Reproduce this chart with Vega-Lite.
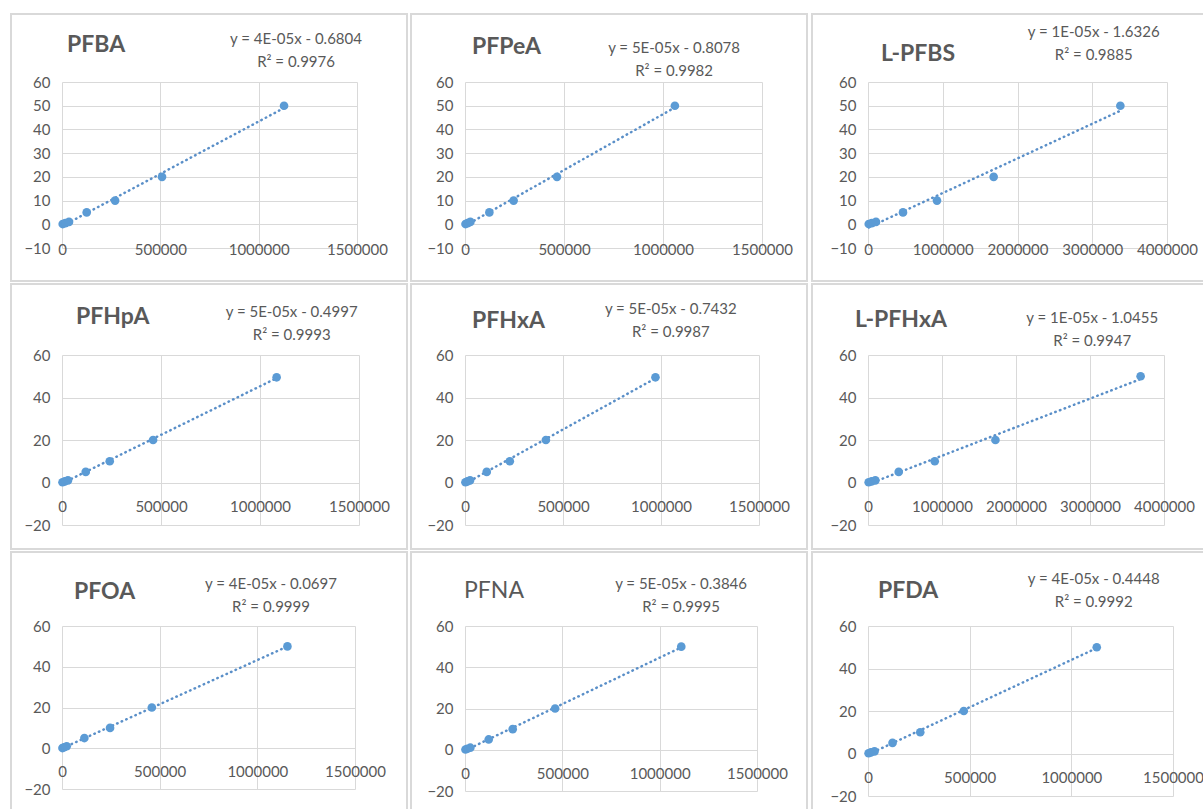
{
  "$schema": "https://vega.github.io/schema/vega-lite/v6.json",
  "padding": {"left": 9, "top": 12, "right": 0, "bottom": 0},
  "background": "white",
  "columns": 3,
  "align": "each",
  "spacing": {"column": 1, "row": 0},
  "datasets": {
    "cal": [
      {"compound": "PFBA", "x": 3500, "y": 0.1}, {"compound": "PFBA", "x": 17000, "y": 0.5}, {"compound": "PFBA", "x": 35600, "y": 1}, {"compound": "PFBA", "x": 125600, "y": 5}, {"compound": "PFBA", "x": 270000, "y": 10}, {"compound": "PFBA", "x": 508600, "y": 20}, {"compound": "PFBA", "x": 1129000, "y": 50},
      {"compound": "PFPeA", "x": 2500, "y": 0.1}, {"compound": "PFPeA", "x": 13000, "y": 0.5}, {"compound": "PFPeA", "x": 27000, "y": 1}, {"compound": "PFPeA", "x": 123000, "y": 5}, {"compound": "PFPeA", "x": 245500, "y": 10}, {"compound": "PFPeA", "x": 464600, "y": 20}, {"compound": "PFPeA", "x": 1060000, "y": 50},
      {"compound": "L-PFBS", "x": 10000, "y": 0.1}, {"compound": "L-PFBS", "x": 50000, "y": 0.5}, {"compound": "L-PFBS", "x": 107000, "y": 1}, {"compound": "L-PFBS", "x": 468000, "y": 5}, {"compound": "L-PFBS", "x": 923000, "y": 10}, {"compound": "L-PFBS", "x": 1681000, "y": 20}, {"compound": "L-PFBS", "x": 3376000, "y": 50},
      {"compound": "PFHpA", "x": 2500, "y": 0.1}, {"compound": "PFHpA", "x": 14000, "y": 0.5}, {"compound": "PFHpA", "x": 30000, "y": 1}, {"compound": "PFHpA", "x": 119800, "y": 5}, {"compound": "PFHpA", "x": 241000, "y": 10}, {"compound": "PFHpA", "x": 460000, "y": 20}, {"compound": "PFHpA", "x": 1084000, "y": 49.5},
      {"compound": "PFHxA", "x": 2200, "y": 0.1}, {"compound": "PFHxA", "x": 12000, "y": 0.5}, {"compound": "PFHxA", "x": 25600, "y": 1}, {"compound": "PFHxA", "x": 110800, "y": 5}, {"compound": "PFHxA", "x": 228600, "y": 10}, {"compound": "PFHxA", "x": 412700, "y": 20}, {"compound": "PFHxA", "x": 971700, "y": 49.5},
      {"compound": "L-PFHxA", "x": 9000, "y": 0.1}, {"compound": "L-PFHxA", "x": 48000, "y": 0.5}, {"compound": "L-PFHxA", "x": 99000, "y": 1}, {"compound": "L-PFHxA", "x": 415000, "y": 5}, {"compound": "L-PFHxA", "x": 902000, "y": 10}, {"compound": "L-PFHxA", "x": 1722000, "y": 20}, {"compound": "L-PFHxA", "x": 3684000, "y": 50},
      {"compound": "PFOA", "x": 2300, "y": 0.1}, {"compound": "PFOA", "x": 11000, "y": 0.5}, {"compound": "PFOA", "x": 24000, "y": 1}, {"compound": "PFOA", "x": 114600, "y": 5}, {"compound": "PFOA", "x": 246000, "y": 10}, {"compound": "PFOA", "x": 460000, "y": 20}, {"compound": "PFOA", "x": 1154000, "y": 50},
      {"compound": "PFNA", "x": 2400, "y": 0.1}, {"compound": "PFNA", "x": 12000, "y": 0.5}, {"compound": "PFNA", "x": 27400, "y": 1}, {"compound": "PFNA", "x": 121600, "y": 5}, {"compound": "PFNA", "x": 245000, "y": 10}, {"compound": "PFNA", "x": 463000, "y": 20}, {"compound": "PFNA", "x": 1111000, "y": 50},
      {"compound": "PFDA", "x": 2800, "y": 0.1}, {"compound": "PFDA", "x": 14000, "y": 0.5}, {"compound": "PFDA", "x": 32000, "y": 1}, {"compound": "PFDA", "x": 120600, "y": 5}, {"compound": "PFDA", "x": 257000, "y": 10}, {"compound": "PFDA", "x": 471000, "y": 20}, {"compound": "PFDA", "x": 1125000, "y": 50}
    ],
    "labels": [
      {"compound": "PFBA", "name": "PFBA", "eq": "y = 4E-05x - 0.6804\nR² = 0.9976"},
      {"compound": "PFPeA", "name": "PFPeA", "eq": "y = 5E-05x - 0.8078\nR² = 0.9982"},
      {"compound": "L-PFBS", "name": "L-PFBS", "eq": "y = 1E-05x - 1.6326\nR² = 0.9885"},
      {"compound": "PFHpA", "name": "PFHpA", "eq": "y = 5E-05x - 0.4997\nR² = 0.9993"},
      {"compound": "PFHxA", "name": "PFHxA", "eq": "y = 5E-05x - 0.7432\nR² = 0.9987"},
      {"compound": "L-PFHxA", "name": "L-PFHxA", "eq": "y = 1E-05x - 1.0455\nR² = 0.9947"},
      {"compound": "PFOA", "name": "PFOA", "eq": "y = 4E-05x - 0.0697\nR² = 0.9999"},
      {"compound": "PFNA", "name": "PFNA", "eq": "y = 5E-05x - 0.3846\nR² = 0.9995"},
      {"compound": "PFDA", "name": "PFDA", "eq": "y = 4E-05x - 0.4448\nR² = 0.9992"}
    ]
  },
  "concat": [
    {
      "width": 295, "height": 166,
      "layer": [
        {"data": {"name": "labels"}, "transform": [{"filter": "datum.compound === 'PFBA'"}],
         "mark": {"type": "rect", "filled": false, "color": "#d9d9d9", "strokeWidth": 2},
         "encoding": {"x": {"datum": -259322, "type": "quantitative"}, "x2": {"datum": 1754237}, "y": {"datum": 88.675, "type": "quantitative"}, "y2": {"datum": -23.916}}},
        {"data": {"name": "cal"}, "transform": [{"filter": "datum.compound === 'PFBA'"}, {"regression": "y", "on": "x"}],
         "mark": {"type": "line", "color": "#5a8fc8", "strokeWidth": 2.5, "strokeDash": [0.5, 4.5], "strokeCap": "round"},
         "encoding": {"x": {"field": "x", "type": "quantitative", "title": null, "scale": {"domain": [0, 1500000], "nice": false}, "axis": {"values": [0, 500000, 1000000, 1500000], "tickCount": 20, "format": "d", "offset": -6, "labelPadding": 0}},
                      "y": {"field": "y", "type": "quantitative", "title": null, "scale": {"domain": [-10, 60], "nice": false}, "axis": {"values": [-10, 0, 10, 20, 30, 40, 50, 60], "tickCount": 20}}}},
        {"data": {"name": "cal"}, "transform": [{"filter": "datum.compound === 'PFBA'"}],
         "mark": {"type": "circle", "size": 75, "color": "#5b9bd5", "opacity": 1},
         "encoding": {"x": {"field": "x", "type": "quantitative"}, "y": {"field": "y", "type": "quantitative"}}},
        {"data": {"name": "labels"}, "transform": [{"filter": "datum.compound === 'PFBA'"}],
         "mark": {"type": "text", "align": "left", "baseline": "alphabetic", "fontSize": 23, "fontWeight": "bold", "color": "#595959", "dx": 5},
         "encoding": {"x": {"datum": 0, "type": "quantitative"}, "y": {"datum": 72.6, "type": "quantitative"}, "text": {"field": "name"}}},
        {"data": {"name": "labels"}, "transform": [{"filter": "datum.compound === 'PFBA'"}],
         "mark": {"type": "text", "align": "center", "baseline": "middle", "fontSize": 15, "color": "#595959", "lineBreak": "\n", "lineHeight": 23},
         "encoding": {"x": {"datum": 1190000, "type": "quantitative"}, "y": {"datum": 78.3, "type": "quantitative"}, "text": {"field": "eq"}}}
      ]
    },
    {
      "width": 297, "height": 166,
      "layer": [
        {"data": {"name": "labels"}, "transform": [{"filter": "datum.compound === 'PFPeA'"}],
         "mark": {"type": "rect", "filled": false, "color": "#d9d9d9", "strokeWidth": 2},
         "encoding": {"x": {"datum": -272727, "type": "quantitative"}, "x2": {"datum": 1727273}, "y": {"datum": 88.675, "type": "quantitative"}, "y2": {"datum": -23.916}}},
        {"data": {"name": "cal"}, "transform": [{"filter": "datum.compound === 'PFPeA'"}, {"regression": "y", "on": "x"}],
         "mark": {"type": "line", "color": "#5a8fc8", "strokeWidth": 2.5, "strokeDash": [0.5, 4.5], "strokeCap": "round"},
         "encoding": {"x": {"field": "x", "type": "quantitative", "title": null, "scale": {"domain": [0, 1500000], "nice": false}, "axis": {"values": [0, 500000, 1000000, 1500000], "tickCount": 20, "format": "d", "offset": -6, "labelPadding": 0}},
                      "y": {"field": "y", "type": "quantitative", "title": null, "scale": {"domain": [-10, 60], "nice": false}, "axis": {"values": [-10, 0, 10, 20, 30, 40, 50, 60], "tickCount": 20}}}},
        {"data": {"name": "cal"}, "transform": [{"filter": "datum.compound === 'PFPeA'"}],
         "mark": {"type": "circle", "size": 75, "color": "#5b9bd5", "opacity": 1},
         "encoding": {"x": {"field": "x", "type": "quantitative"}, "y": {"field": "y", "type": "quantitative"}}},
        {"data": {"name": "labels"}, "transform": [{"filter": "datum.compound === 'PFPeA'"}],
         "mark": {"type": "text", "align": "left", "baseline": "alphabetic", "fontSize": 23, "fontWeight": "bold", "color": "#595959", "dx": 7},
         "encoding": {"x": {"datum": 0, "type": "quantitative"}, "y": {"datum": 71.8, "type": "quantitative"}, "text": {"field": "name"}}},
        {"data": {"name": "labels"}, "transform": [{"filter": "datum.compound === 'PFPeA'"}],
         "mark": {"type": "text", "align": "center", "baseline": "middle", "fontSize": 15, "color": "#595959", "lineBreak": "\n", "lineHeight": 23},
         "encoding": {"x": {"datum": 1056000, "type": "quantitative"}, "y": {"datum": 74.4, "type": "quantitative"}, "text": {"field": "eq"}}}
      ]
    },
    {
      "width": 299, "height": 166,
      "layer": [
        {"data": {"name": "labels"}, "transform": [{"filter": "datum.compound === 'L-PFBS'"}],
         "mark": {"type": "rect", "filled": false, "color": "#d9d9d9", "strokeWidth": 2},
         "encoding": {"x": {"datum": -749164, "type": "quantitative"}, "x2": {"datum": 4642140}, "y": {"datum": 88.675, "type": "quantitative"}, "y2": {"datum": -23.916}}},
        {"data": {"name": "cal"}, "transform": [{"filter": "datum.compound === 'L-PFBS'"}, {"regression": "y", "on": "x"}],
         "mark": {"type": "line", "color": "#5a8fc8", "strokeWidth": 2.5, "strokeDash": [0.5, 4.5], "strokeCap": "round"},
         "encoding": {"x": {"field": "x", "type": "quantitative", "title": null, "scale": {"domain": [0, 4000000], "nice": false}, "axis": {"values": [0, 1000000, 2000000, 3000000, 4000000], "tickCount": 20, "format": "d", "offset": -6, "labelPadding": 0}},
                      "y": {"field": "y", "type": "quantitative", "title": null, "scale": {"domain": [-10, 60], "nice": false}, "axis": {"values": [-10, 0, 10, 20, 30, 40, 50, 60], "tickCount": 20}}}},
        {"data": {"name": "cal"}, "transform": [{"filter": "datum.compound === 'L-PFBS'"}],
         "mark": {"type": "circle", "size": 75, "color": "#5b9bd5", "opacity": 1},
         "encoding": {"x": {"field": "x", "type": "quantitative"}, "y": {"field": "y", "type": "quantitative"}}},
        {"data": {"name": "labels"}, "transform": [{"filter": "datum.compound === 'L-PFBS'"}],
         "mark": {"type": "text", "align": "left", "baseline": "alphabetic", "fontSize": 23, "fontWeight": "bold", "color": "#595959", "dx": 13},
         "encoding": {"x": {"datum": 0, "type": "quantitative"}, "y": {"datum": 68.8, "type": "quantitative"}, "text": {"field": "name"}}},
        {"data": {"name": "labels"}, "transform": [{"filter": "datum.compound === 'L-PFBS'"}],
         "mark": {"type": "text", "align": "center", "baseline": "middle", "fontSize": 15, "color": "#595959", "lineBreak": "\n", "lineHeight": 23},
         "encoding": {"x": {"datum": 3020000, "type": "quantitative"}, "y": {"datum": 81, "type": "quantitative"}, "text": {"field": "eq"}}}
      ]
    },
    {
      "width": 297, "height": 170,
      "layer": [
        {"data": {"name": "labels"}, "transform": [{"filter": "datum.compound === 'PFHpA'"}],
         "mark": {"type": "rect", "filled": false, "color": "#d9d9d9", "strokeWidth": 2},
         "encoding": {"x": {"datum": -257576, "type": "quantitative"}, "x2": {"datum": 1742424}, "y": {"datum": 93.41, "type": "quantitative"}, "y2": {"datum": -31.29}}},
        {"data": {"name": "cal"}, "transform": [{"filter": "datum.compound === 'PFHpA'"}, {"regression": "y", "on": "x"}],
         "mark": {"type": "line", "color": "#5a8fc8", "strokeWidth": 2.5, "strokeDash": [0.5, 4.5], "strokeCap": "round"},
         "encoding": {"x": {"field": "x", "type": "quantitative", "title": null, "scale": {"domain": [0, 1500000], "nice": false}, "axis": {"values": [0, 500000, 1000000, 1500000], "tickCount": 20, "format": "d", "offset": -26, "labelPadding": 0}},
                      "y": {"field": "y", "type": "quantitative", "title": null, "scale": {"domain": [-20, 60], "nice": false}, "axis": {"values": [-20, 0, 20, 40, 60], "tickCount": 20}}}},
        {"data": {"name": "cal"}, "transform": [{"filter": "datum.compound === 'PFHpA'"}],
         "mark": {"type": "circle", "size": 75, "color": "#5b9bd5", "opacity": 1},
         "encoding": {"x": {"field": "x", "type": "quantitative"}, "y": {"field": "y", "type": "quantitative"}}},
        {"data": {"name": "labels"}, "transform": [{"filter": "datum.compound === 'PFHpA'"}],
         "mark": {"type": "text", "align": "left", "baseline": "alphabetic", "fontSize": 23, "fontWeight": "bold", "color": "#595959", "dx": 14},
         "encoding": {"x": {"datum": 0, "type": "quantitative"}, "y": {"datum": 74.6, "type": "quantitative"}, "text": {"field": "name"}}},
        {"data": {"name": "labels"}, "transform": [{"filter": "datum.compound === 'PFHpA'"}],
         "mark": {"type": "text", "align": "center", "baseline": "middle", "fontSize": 15, "color": "#595959", "lineBreak": "\n", "lineHeight": 23},
         "encoding": {"x": {"datum": 1160000, "type": "quantitative"}, "y": {"datum": 80.4, "type": "quantitative"}, "text": {"field": "eq"}}}
      ]
    },
    {
      "width": 294, "height": 170,
      "layer": [
        {"data": {"name": "labels"}, "transform": [{"filter": "datum.compound === 'PFHxA'"}],
         "mark": {"type": "rect", "filled": false, "color": "#d9d9d9", "strokeWidth": 2},
         "encoding": {"x": {"datum": -275510, "type": "quantitative"}, "x2": {"datum": 1744898}, "y": {"datum": 93.41, "type": "quantitative"}, "y2": {"datum": -31.29}}},
        {"data": {"name": "cal"}, "transform": [{"filter": "datum.compound === 'PFHxA'"}, {"regression": "y", "on": "x"}],
         "mark": {"type": "line", "color": "#5a8fc8", "strokeWidth": 2.5, "strokeDash": [0.5, 4.5], "strokeCap": "round"},
         "encoding": {"x": {"field": "x", "type": "quantitative", "title": null, "scale": {"domain": [0, 1500000], "nice": false}, "axis": {"values": [0, 500000, 1000000, 1500000], "tickCount": 20, "format": "d", "offset": -26, "labelPadding": 0}},
                      "y": {"field": "y", "type": "quantitative", "title": null, "scale": {"domain": [-20, 60], "nice": false}, "axis": {"values": [-20, 0, 20, 40, 60], "tickCount": 20}}}},
        {"data": {"name": "cal"}, "transform": [{"filter": "datum.compound === 'PFHxA'"}],
         "mark": {"type": "circle", "size": 75, "color": "#5b9bd5", "opacity": 1},
         "encoding": {"x": {"field": "x", "type": "quantitative"}, "y": {"field": "y", "type": "quantitative"}}},
        {"data": {"name": "labels"}, "transform": [{"filter": "datum.compound === 'PFHxA'"}],
         "mark": {"type": "text", "align": "left", "baseline": "alphabetic", "fontSize": 23, "fontWeight": "bold", "color": "#595959", "dx": 7},
         "encoding": {"x": {"datum": 0, "type": "quantitative"}, "y": {"datum": 72.5, "type": "quantitative"}, "text": {"field": "name"}}},
        {"data": {"name": "labels"}, "transform": [{"filter": "datum.compound === 'PFHxA'"}],
         "mark": {"type": "text", "align": "center", "baseline": "middle", "fontSize": 15, "color": "#595959", "lineBreak": "\n", "lineHeight": 23},
         "encoding": {"x": {"datum": 1050000, "type": "quantitative"}, "y": {"datum": 81.6, "type": "quantitative"}, "text": {"field": "eq"}}}
      ]
    },
    {
      "width": 296, "height": 170,
      "layer": [
        {"data": {"name": "labels"}, "transform": [{"filter": "datum.compound === 'L-PFHxA'"}],
         "mark": {"type": "rect", "filled": false, "color": "#d9d9d9", "strokeWidth": 2},
         "encoding": {"x": {"datum": -756757, "type": "quantitative"}, "x2": {"datum": 4689189}, "y": {"datum": 93.41, "type": "quantitative"}, "y2": {"datum": -31.29}}},
        {"data": {"name": "cal"}, "transform": [{"filter": "datum.compound === 'L-PFHxA'"}, {"regression": "y", "on": "x"}],
         "mark": {"type": "line", "color": "#5a8fc8", "strokeWidth": 2.5, "strokeDash": [0.5, 4.5], "strokeCap": "round"},
         "encoding": {"x": {"field": "x", "type": "quantitative", "title": null, "scale": {"domain": [0, 4000000], "nice": false}, "axis": {"values": [0, 1000000, 2000000, 3000000, 4000000], "tickCount": 20, "format": "d", "offset": -26, "labelPadding": 0}},
                      "y": {"field": "y", "type": "quantitative", "title": null, "scale": {"domain": [-20, 60], "nice": false}, "axis": {"values": [-20, 0, 20, 40, 60], "tickCount": 20}}}},
        {"data": {"name": "cal"}, "transform": [{"filter": "datum.compound === 'L-PFHxA'"}],
         "mark": {"type": "circle", "size": 75, "color": "#5b9bd5", "opacity": 1},
         "encoding": {"x": {"field": "x", "type": "quantitative"}, "y": {"field": "y", "type": "quantitative"}}},
        {"data": {"name": "labels"}, "transform": [{"filter": "datum.compound === 'L-PFHxA'"}],
         "mark": {"type": "text", "align": "left", "baseline": "alphabetic", "fontSize": 23, "fontWeight": "bold", "color": "#595959", "dx": -13},
         "encoding": {"x": {"datum": 0, "type": "quantitative"}, "y": {"datum": 73.2, "type": "quantitative"}, "text": {"field": "name"}}},
        {"data": {"name": "labels"}, "transform": [{"filter": "datum.compound === 'L-PFHxA'"}],
         "mark": {"type": "text", "align": "center", "baseline": "middle", "fontSize": 15, "color": "#595959", "lineBreak": "\n", "lineHeight": 23},
         "encoding": {"x": {"datum": 3030000, "type": "quantitative"}, "y": {"datum": 77.4, "type": "quantitative"}, "text": {"field": "eq"}}}
      ]
    },
    {
      "width": 293, "height": 163,
      "layer": [
        {"data": {"name": "labels"}, "transform": [{"filter": "datum.compound === 'PFOA'"}],
         "mark": {"type": "rect", "filled": false, "color": "#d9d9d9", "strokeWidth": 2},
         "encoding": {"x": {"datum": -261092, "type": "quantitative"}, "x2": {"datum": 1766212}, "y": {"datum": 96.32, "type": "quantitative"}, "y2": {"datum": -32.27}}},
        {"data": {"name": "cal"}, "transform": [{"filter": "datum.compound === 'PFOA'"}, {"regression": "y", "on": "x"}],
         "mark": {"type": "line", "color": "#5a8fc8", "strokeWidth": 2.5, "strokeDash": [0.5, 4.5], "strokeCap": "round"},
         "encoding": {"x": {"field": "x", "type": "quantitative", "title": null, "scale": {"domain": [0, 1500000], "nice": false}, "axis": {"values": [0, 500000, 1000000, 1500000], "tickCount": 20, "format": "d", "offset": -25, "labelPadding": 0}},
                      "y": {"field": "y", "type": "quantitative", "title": null, "scale": {"domain": [-20, 60], "nice": false}, "axis": {"values": [-20, 0, 20, 40, 60], "tickCount": 20}}}},
        {"data": {"name": "cal"}, "transform": [{"filter": "datum.compound === 'PFOA'"}],
         "mark": {"type": "circle", "size": 75, "color": "#5b9bd5", "opacity": 1},
         "encoding": {"x": {"field": "x", "type": "quantitative"}, "y": {"field": "y", "type": "quantitative"}}},
        {"data": {"name": "labels"}, "transform": [{"filter": "datum.compound === 'PFOA'"}],
         "mark": {"type": "text", "align": "left", "baseline": "alphabetic", "fontSize": 23, "fontWeight": "bold", "color": "#595959", "dx": 12},
         "encoding": {"x": {"datum": 0, "type": "quantitative"}, "y": {"datum": 73.3, "type": "quantitative"}, "text": {"field": "name"}}},
        {"data": {"name": "labels"}, "transform": [{"filter": "datum.compound === 'PFOA'"}],
         "mark": {"type": "text", "align": "center", "baseline": "middle", "fontSize": 15, "color": "#595959", "lineBreak": "\n", "lineHeight": 23},
         "encoding": {"x": {"datum": 1070000, "type": "quantitative"}, "y": {"datum": 80.7, "type": "quantitative"}, "text": {"field": "eq"}}}
      ]
    },
    {
      "width": 292, "height": 165,
      "layer": [
        {"data": {"name": "labels"}, "transform": [{"filter": "datum.compound === 'PFNA'"}],
         "mark": {"type": "rect", "filled": false, "color": "#d9d9d9", "strokeWidth": 2},
         "encoding": {"x": {"datum": -277397, "type": "quantitative"}, "x2": {"datum": 1756849}, "y": {"datum": 95.88, "type": "quantitative"}, "y2": {"datum": -31.15}}},
        {"data": {"name": "cal"}, "transform": [{"filter": "datum.compound === 'PFNA'"}, {"regression": "y", "on": "x"}],
         "mark": {"type": "line", "color": "#5a8fc8", "strokeWidth": 2.5, "strokeDash": [0.5, 4.5], "strokeCap": "round"},
         "encoding": {"x": {"field": "x", "type": "quantitative", "title": null, "scale": {"domain": [0, 1500000], "nice": false}, "axis": {"values": [0, 500000, 1000000, 1500000], "tickCount": 20, "format": "d", "offset": -25, "labelPadding": 0}},
                      "y": {"field": "y", "type": "quantitative", "title": null, "scale": {"domain": [-20, 60], "nice": false}, "axis": {"values": [-20, 0, 20, 40, 60], "tickCount": 20}}}},
        {"data": {"name": "cal"}, "transform": [{"filter": "datum.compound === 'PFNA'"}],
         "mark": {"type": "circle", "size": 75, "color": "#5b9bd5", "opacity": 1},
         "encoding": {"x": {"field": "x", "type": "quantitative"}, "y": {"field": "y", "type": "quantitative"}}},
        {"data": {"name": "labels"}, "transform": [{"filter": "datum.compound === 'PFNA'"}],
         "mark": {"type": "text", "align": "left", "baseline": "alphabetic", "fontSize": 23, "fontWeight": "normal", "color": "#595959", "dx": -1},
         "encoding": {"x": {"datum": 0, "type": "quantitative"}, "y": {"datum": 73.6, "type": "quantitative"}, "text": {"field": "name"}}},
        {"data": {"name": "labels"}, "transform": [{"filter": "datum.compound === 'PFNA'"}],
         "mark": {"type": "text", "align": "center", "baseline": "middle", "fontSize": 15, "color": "#595959", "lineBreak": "\n", "lineHeight": 23},
         "encoding": {"x": {"datum": 1110000, "type": "quantitative"}, "y": {"datum": 80.6, "type": "quantitative"}, "text": {"field": "eq"}}}
      ]
    },
    {
      "width": 305, "height": 170,
      "layer": [
        {"data": {"name": "labels"}, "transform": [{"filter": "datum.compound === 'PFDA'"}],
         "mark": {"type": "rect", "filled": false, "color": "#d9d9d9", "strokeWidth": 2},
         "encoding": {"x": {"datum": -275410, "type": "quantitative"}, "x2": {"datum": 1706557}, "y": {"datum": 94.82, "type": "quantitative"}, "y2": {"datum": -28.47}}},
        {"data": {"name": "cal"}, "transform": [{"filter": "datum.compound === 'PFDA'"}, {"regression": "y", "on": "x"}],
         "mark": {"type": "line", "color": "#5a8fc8", "strokeWidth": 2.5, "strokeDash": [0.5, 4.5], "strokeCap": "round"},
         "encoding": {"x": {"field": "x", "type": "quantitative", "title": null, "scale": {"domain": [0, 1500000], "nice": false}, "axis": {"values": [0, 500000, 1000000, 1500000], "tickCount": 20, "format": "d", "offset": -26, "labelPadding": 0}},
                      "y": {"field": "y", "type": "quantitative", "title": null, "scale": {"domain": [-20, 60], "nice": false}, "axis": {"values": [-20, 0, 20, 40, 60], "tickCount": 20}}}},
        {"data": {"name": "cal"}, "transform": [{"filter": "datum.compound === 'PFDA'"}],
         "mark": {"type": "circle", "size": 75, "color": "#5b9bd5", "opacity": 1},
         "encoding": {"x": {"field": "x", "type": "quantitative"}, "y": {"field": "y", "type": "quantitative"}}},
        {"data": {"name": "labels"}, "transform": [{"filter": "datum.compound === 'PFDA'"}],
         "mark": {"type": "text", "align": "left", "baseline": "alphabetic", "fontSize": 23, "fontWeight": "bold", "color": "#595959", "dx": 10},
         "encoding": {"x": {"datum": 0, "type": "quantitative"}, "y": {"datum": 73.1, "type": "quantitative"}, "text": {"field": "name"}}},
        {"data": {"name": "labels"}, "transform": [{"filter": "datum.compound === 'PFDA'"}],
         "mark": {"type": "text", "align": "center", "baseline": "middle", "fontSize": 15, "color": "#595959", "lineBreak": "\n", "lineHeight": 23},
         "encoding": {"x": {"datum": 1110000, "type": "quantitative"}, "y": {"datum": 82, "type": "quantitative"}, "text": {"field": "eq"}}}
      ]
    }
  ],
  "config": {
    "font": "Lato",
    "view": {"stroke": null},
    "axis": {"labelFont": "Lato", "labelFontSize": 15, "labelColor": "#595959", "ticks": false, "domain": false, "grid": true, "gridColor": "#d9d9d9", "gridWidth": 1, "labelOverlap": false, "labelFlush": false},
    "axisY": {"labelPadding": 12},
    "text": {"font": "Lato"}
  }
}
